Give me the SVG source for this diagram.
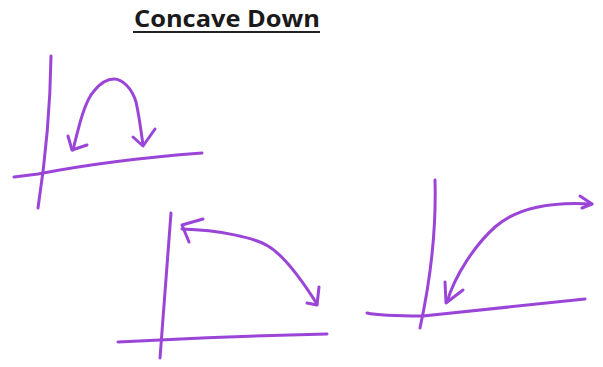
<svg xmlns="http://www.w3.org/2000/svg" width="603" height="367" viewBox="0 0 603 367">
<style>
.ink{fill:none;stroke:#9b45d8;stroke-width:3;stroke-linecap:round;stroke-linejoin:round}
.title{font-family:"Open Sans","Liberation Sans",sans-serif;font-weight:bold;font-size:24px;fill:#1a1a1a}
</style>
<rect width="603" height="367" fill="#ffffff"/>
<text class="title" x="134" y="27" textLength="186" lengthAdjust="spacingAndGlyphs">Concave Down</text>
<line x1="133" y1="32" x2="320" y2="32" stroke="#222" stroke-width="2"/>
<g id="graph1">
<path class="ink" d="M51,56 Q50,130 38,208"/>
<path class="ink" d="M14,177 L38,174 Q110,160 202,153"/>
<path class="ink" d="M73,150 C78,130 84,102 94,91 C102,81 108,79 114,79 C122,79 132,88 136,102 C139,115 141,130 143,145"/>
<path class="ink" d="M68,136 L72,150 L87,145"/>
<path class="ink" d="M133,137 L143,146 L155,129"/>
</g>
<g id="graph2">
<path class="ink" d="M171,213 Q165,290 160,358"/>
<path class="ink" d="M118,342 L160,340 Q240,336 327,334"/>
<path class="ink" d="M182,229 C220,230 255,238 268,246 C285,256 305,285 317,304"/>
<path class="ink" d="M189,242 L182,225 L203,219"/>
<path class="ink" d="M307,303 L317,305 L319,287"/>
</g>
<g id="graph3">
<path class="ink" d="M435,180 Q437,250 420,328"/>
<path class="ink" d="M367,313 Q380,316 423,316 L585,299"/>
<path class="ink" d="M592,204 C560,202 520,205 495,227 C475,245 455,275 447,302"/>
<path class="ink" d="M580,196 L592,204 L582,208"/>
<path class="ink" d="M445,282 L446,303 L463,290"/>
</g>
</svg>
